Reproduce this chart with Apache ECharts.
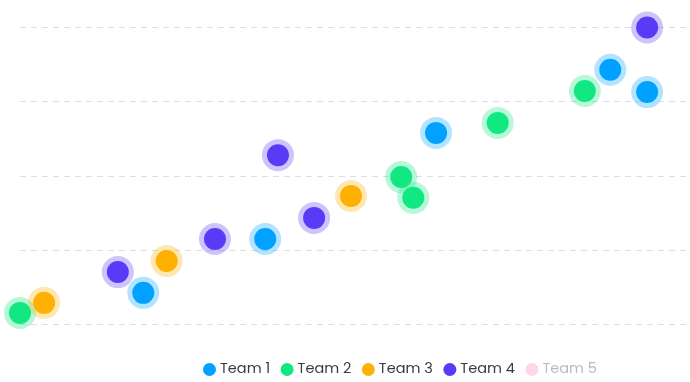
<!DOCTYPE html>
<html>
<head>
<meta charset="utf-8">
<script src="https://cdn.jsdelivr.net/npm/echarts@6/dist/echarts.min.js"></script>
<style>
html,body{margin:0;padding:0;background:#fff;}
#chart{width:690px;height:382px;}
</style>
</head>
<body>
<div id="chart"></div>
<script>
var teamNames = ['Team 1', 'Team 2', 'Team 3', 'Team 4', 'Team 5'];
var team1 = [[18.4, 8.5], [36.6, 23.0], [62.1, 51.6], [88.1, 68.6], [93.6, 62.6]];
var team2 = [[0, 3.1], [56.9, 39.7], [58.7, 34.1], [71.3, 54.3], [84.3, 62.9]];
var team3 = [[3.6, 5.8], [21.9, 17.1], [49.4, 34.6]];
var team4 = [[14.6, 14.1], [29.1, 23.0], [38.5, 45.6], [43.9, 28.7], [93.6, 80]];
var team5 = [];
var yTicks = [0, 20, 40, 60, 80];

var colors = [[0, 161, 255], [18, 232, 130], [255, 177, 0], [90, 58, 246], [255, 208, 232]];
var allData = [team1, team2, team3, team4, team5];

function rgb(c){ return 'rgb(' + c.join(',') + ')'; }
function rgba(c, a){ return 'rgba(' + c.join(',') + ',' + a + ')'; }

var series = teamNames.map(function(n, i){
  return {
    name: n,
    type: 'scatter',
    data: allData[i],
    symbol: 'circle',
    symbolSize: 22,
    itemStyle: { color: rgb(colors[i]), borderColor: rgba(colors[i], 0.3), borderWidth: 10, opacity: 1 },
    emphasis: { disabled: true }
  };
});

var legendData = teamNames.map(function(n, i){
  if (i === 4) {
    return { name: n, textStyle: { color: '#b8bcc2' }, itemStyle: { color: '#fdd6ea', borderWidth: 0 } };
  }
  return { name: n, itemStyle: { borderWidth: 0 } };
});

var chart = echarts.init(document.getElementById('chart'), null, { renderer: 'canvas' });
chart.setOption({
  animation: false,
  color: colors.map(rgb),
  grid: { left: 20, right: 0, top: 27.5, bottom: 57.6 },
  legend: {
    data: legendData,
    left: 198,
    bottom: 0,
    icon: 'circle',
    itemWidth: 13,
    itemHeight: 13,
    itemGap: 10.5,
    selectedMode: false,
    textStyle: { fontFamily: 'Poppins, Inter, sans-serif', fontSize: 14.5, color: '#373d3f', padding: [0, 0, 0, -1] }
  },
  xAxis: {
    type: 'value',
    min: 0,
    max: 100,
    axisLine: { show: false },
    axisTick: { show: false },
    axisLabel: { show: false },
    splitLine: { show: false }
  },
  yAxis: {
    type: 'value',
    min: yTicks[0],
    max: yTicks[yTicks.length - 1],
    interval: yTicks[1] - yTicks[0],
    axisLine: { show: false },
    axisTick: { show: false },
    axisLabel: { show: false },
    splitLine: { show: true, lineStyle: { color: '#d5e0ea', width: 1, type: [6, 5] } }
  },
  series: series
});
</script>
</body>
</html>
